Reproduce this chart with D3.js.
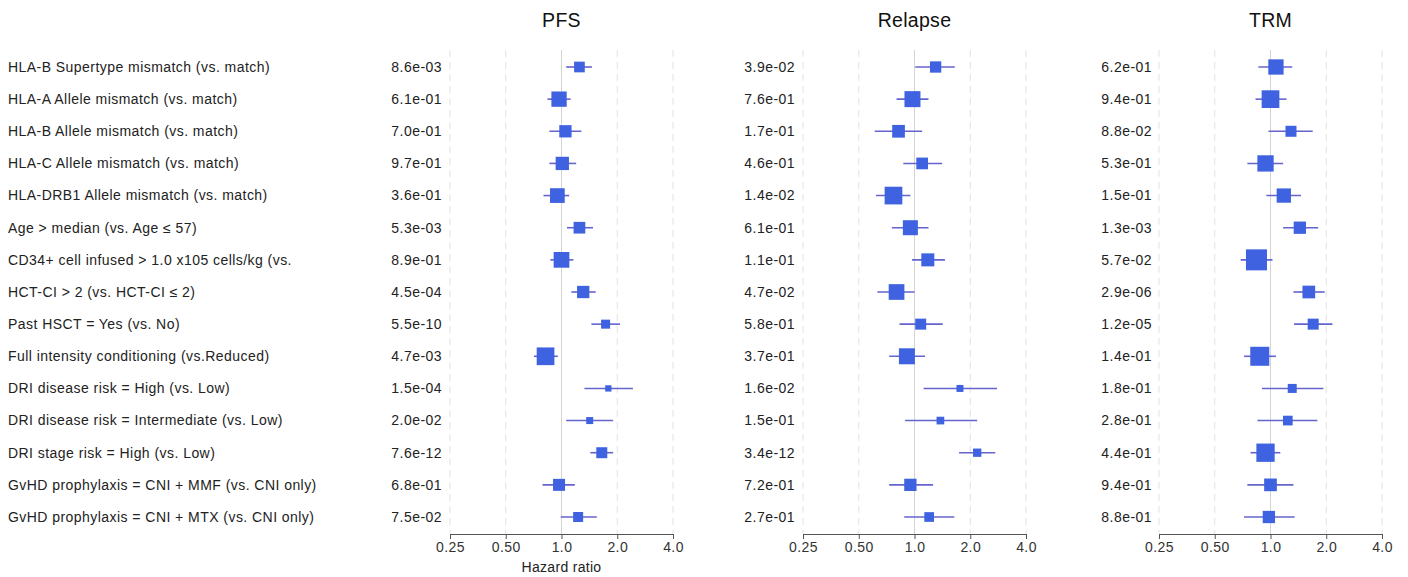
<!DOCTYPE html>
<html>
<head>
<meta charset="utf-8">
<script src="https://cdn.jsdelivr.net/npm/d3@7/dist/d3.min.js"></script>
<style>
body { margin: 0; background: #fff; }
svg { font-family: "Liberation Sans", Arial, sans-serif; }
</style>
</head>
<body>
<svg width="1408" height="577"></svg>
<script>
var labels = [
    "HLA-B Supertype mismatch (vs. match)",
    "HLA-A Allele mismatch (vs. match)",
    "HLA-B Allele mismatch (vs. match)",
    "HLA-C Allele mismatch (vs. match)",
    "HLA-DRB1 Allele mismatch (vs. match)",
    "Age > median (vs. Age \u2264 57)",
    "CD34+ cell infused > 1.0 x105 cells/kg (vs.",
    "HCT-CI > 2 (vs. HCT-CI \u2264 2)",
    "Past HSCT = Yes (vs. No)",
    "Full intensity conditioning (vs.Reduced)",
    "DRI disease risk = High (vs. Low)",
    "DRI disease risk = Intermediate (vs. Low)",
    "DRI stage risk = High (vs. Low)",
    "GvHD prophylaxis = CNI + MMF (vs. CNI only)",
    "GvHD prophylaxis = CNI + MTX (vs. CNI only)"
];

var panelNames = ["PFS", "Relapse", "TRM"];

// hazard ratio, lower and upper CI, box weight, p-value text
var pfsHR = [1.25, 0.97, 1.05, 1.01, 0.95, 1.25, 1.00, 1.31, 1.73, 0.82, 1.79, 1.42, 1.65, 0.97, 1.23];
var pfsLo = [1.06, 0.84, 0.86, 0.86, 0.80, 1.07, 0.87, 1.13, 1.45, 0.71, 1.33, 1.06, 1.43, 0.79, 0.99];
var pfsHi = [1.46, 1.12, 1.28, 1.20, 1.10, 1.48, 1.16, 1.53, 2.07, 0.955, 2.43, 1.90, 1.90, 1.18, 1.55];
var pfsW  = [10.7, 15.3, 12.3, 13.3, 14.7, 11.7, 15.7, 12.3, 9, 17.7, 6.3, 7, 11, 12, 10];
var pfsP  = ["8.6e-03", "6.1e-01", "7.0e-01", "9.7e-01", "3.6e-01", "5.3e-03", "8.9e-01", "4.5e-04",
             "5.5e-10", "4.7e-03", "1.5e-04", "2.0e-02", "7.6e-12", "6.8e-01", "7.5e-02"];

var relHR = [1.30, 0.975, 0.82, 1.10, 0.77, 0.95, 1.18, 0.80, 1.08, 0.91, 1.76, 1.38, 2.18, 0.95, 1.20];
var relLo = [1.01, 0.80, 0.61, 0.87, 0.62, 0.755, 0.97, 0.63, 0.83, 0.73, 1.12, 0.89, 1.74, 0.73, 0.88];
var relHi = [1.65, 1.19, 1.10, 1.41, 0.95, 1.19, 1.46, 1.00, 1.42, 1.14, 2.79, 2.18, 2.73, 1.26, 1.64];
var relW  = [11.3, 16, 12.7, 11.7, 17.7, 15, 13, 15.7, 11, 16, 7, 7.7, 8.3, 12.3, 9.7];
var relP  = ["3.9e-02", "7.6e-01", "1.7e-01", "4.6e-01", "1.4e-02", "6.1e-01", "1.1e-01", "4.7e-02",
             "5.8e-01", "3.7e-01", "1.6e-02", "1.5e-01", "3.4e-12", "7.2e-01", "2.7e-01"];

var trmHR = [1.07, 1.00, 1.29, 0.94, 1.18, 1.44, 0.84, 1.61, 1.70, 0.875, 1.31, 1.24, 0.94, 1.00, 0.98];
var trmLo = [0.86, 0.83, 0.975, 0.75, 0.95, 1.17, 0.69, 1.33, 1.34, 0.72, 0.90, 0.85, 0.78, 0.75, 0.72];
var trmHi = [1.31, 1.22, 1.69, 1.17, 1.46, 1.81, 1.025, 1.96, 2.16, 1.07, 1.93, 1.79, 1.13, 1.33, 1.35];
var trmW  = [15.3, 17.7, 11, 16.3, 14.3, 12.3, 21, 12.7, 11, 19, 9, 9.7, 18.3, 12.7, 12.3];
var trmP  = ["6.2e-01", "9.4e-01", "8.8e-02", "5.3e-01", "1.5e-01", "1.3e-03", "5.7e-02", "2.9e-06",
             "1.2e-05", "1.4e-01", "1.8e-01", "2.8e-01", "4.4e-01", "9.4e-01", "8.8e-01"];

var tickValues = [0.25, 0.5, 1, 2, 4];
var tickLabels = ["0.25", "0.50", "1.0", "2.0", "4.0"];

var panels = [
    {name: panelNames[0], hr: pfsHR, lo: pfsLo, hi: pfsHi, w: pfsW, p: pfsP, x0: 450, x1: 673, px: 442},
    {name: panelNames[1], hr: relHR, lo: relLo, hi: relHi, w: relW, p: relP, x0: 803, x1: 1026, px: 795},
    {name: panelNames[2], hr: trmHR, lo: trmLo, hi: trmHi, w: trmW, p: trmP, x0: 1159, x1: 1382, px: 1152}
];

var boxColor = "#3f63e0";
var lineColor = "#6464cc";
var gridTop = 50;
var axisY = 534;
var textSpacing = "0.45px";

var svg = d3.select("svg");

var y = d3.scalePoint()
    .domain(labels)
    .range([67, 517]);

var boxSize = d3.scaleLinear().domain([0, 1]).range([0, 1]);

svg.append("g")
    .selectAll("text")
    .data(labels)
    .enter()
    .append("text")
    .attr("x", 8)
    .attr("y", (d) => y(d))
    .attr("dy", "0.35em")
    .attr("font-size", 14)
    .attr("letter-spacing", textSpacing)
    .attr("fill", "#222")
    .text((d) => d);

panels.forEach((panel, pi) => {
    var x = d3.scaleLog()
        .base(2)
        .domain([0.25, 4])
        .range([panel.x0, panel.x1]);

    var g = svg.append("g").attr("id", "panel" + pi);

    // grid
    g.selectAll(".grid")
        .data(tickValues)
        .enter()
        .append("line")
        .attr("x1", (d) => x(d))
        .attr("x2", (d) => x(d))
        .attr("y1", gridTop)
        .attr("y2", axisY)
        .attr("stroke", (d) => d == 1 ? "#d4d4d4" : "#e2e2e2")
        .attr("stroke-width", 1)
        .attr("stroke-dasharray", (d) => d == 1 ? null : "7,5");

    // title
    g.append("text")
        .attr("x", x(1))
        .attr("y", 20)
        .attr("dy", "0.35em")
        .attr("text-anchor", "middle")
        .attr("font-size", 19.5)
        .attr("letter-spacing", "0.3px")
        .attr("fill", "#111")
        .text(panel.name);

    // p-values
    g.selectAll(".pval")
        .data(panel.p)
        .enter()
        .append("text")
        .attr("x", panel.px)
        .attr("y", (d, i) => y(labels[i]))
        .attr("dy", "0.35em")
        .attr("text-anchor", "end")
        .attr("font-size", 14)
        .attr("letter-spacing", textSpacing)
        .attr("fill", "#222")
        .text((d) => d);

    // CI lines
    g.selectAll(".ci")
        .data(labels)
        .enter()
        .append("line")
        .attr("x1", (d, i) => x(panel.lo[i]))
        .attr("x2", (d, i) => x(panel.hi[i]))
        .attr("y1", (d) => y(d))
        .attr("y2", (d) => y(d))
        .attr("stroke", lineColor)
        .attr("stroke-width", 1.6);

    // boxes
    g.selectAll(".box")
        .data(labels)
        .enter()
        .append("rect")
        .attr("x", (d, i) => x(panel.hr[i]) - boxSize(panel.w[i]) / 2)
        .attr("y", (d, i) => y(d) - boxSize(panel.w[i]) / 2)
        .attr("width", (d, i) => boxSize(panel.w[i]))
        .attr("height", (d, i) => boxSize(panel.w[i]))
        .attr("fill", boxColor);

    // axis
    var axis = d3.axisBottom(x)
        .tickValues(tickValues)
        .tickFormat((d, i) => tickLabels[i])
        .tickSize(5)
        .tickSizeOuter(0)
        .tickPadding(3);
    var ag = g.append("g")
        .attr("transform", `translate(0, ${axisY})`)
        .call(axis);
    ag.select(".domain").attr("stroke", "#555");
    ag.selectAll(".tick line").attr("stroke", "#555");
    ag.selectAll(".tick text")
        .attr("font-size", 14)
        .attr("letter-spacing", "0.4px")
        .attr("fill", "#333")
        .attr("font-family", "Liberation Sans, Arial, sans-serif");

    if (pi == 0) {
        g.append("text")
            .attr("x", x(1))
            .attr("y", 567)
            .attr("dy", "0.35em")
            .attr("text-anchor", "middle")
            .attr("font-size", 14)
            .attr("letter-spacing", "0.3px")
            .attr("fill", "#222")
            .text("Hazard ratio");
    }
});
</script>
</body>
</html>
